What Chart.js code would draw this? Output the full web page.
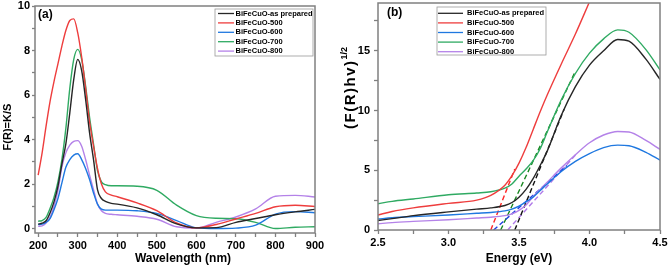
<!DOCTYPE html>
<html>
<head>
<meta charset="utf-8">
<script src="https://cdn.jsdelivr.net/npm/chart.js@4.4.1/dist/chart.umd.min.js"></script>
<style>
  body { margin: 0; background: #fff; }
  #wrap { position: relative; width: 669px; height: 271px; }
  #chartA { position: absolute; left: 0; top: 0; }
  #chartB { position: absolute; left: 335px; top: 0; }
</style>
</head>
<body>
<div id="wrap">
  <canvas id="chartA" width="335" height="271"></canvas>
  <canvas id="chartB" width="334" height="271"></canvas>
</div>
<script>
var seriesNames = ['BiFeCuO-as prepared', 'BiFeCuO-500', 'BiFeCuO-600', 'BiFeCuO-700', 'BiFeCuO-800'];
var seriesColors = ['#262626', '#ee3d3d', '#1f78e0', '#2faa62', '#b482e8'];
var tangentColors = ['#111111', '#ff2626', '#2040e0', '#16861e', '#b07ae8'];

// (a) Kubelka-Munk F(R) vs wavelength
var wavelength = [200, 210, 220, 230, 240, 250, 260, 270, 280, 290, 300, 310, 320, 330, 340, 350, 360, 370, 385, 400,
                  450, 500, 550, 600, 650, 700, 750, 800, 850, 900];
var frAsPrep = [0.20, 0.24, 0.35, 0.70, 1.20, 1.90, 2.90, 3.80, 5.20, 6.70, 7.60, 7.10, 5.80, 4.30, 3.10, 1.75, 1.35, 1.22, 1.13, 1.10,
                0.93, 0.62, 0.21, 0.03, 0.04, 0.28, 0.45, 0.62, 0.75, 0.86];
var fr500 = [2.40, 3.40, 4.60, 5.70, 6.60, 7.40, 8.20, 8.90, 9.35, 9.42, 8.80, 7.70, 6.30, 4.80, 3.70, 2.70, 2.00, 1.65, 1.50, 1.43,
             1.15, 0.80, 0.25, 0.03, 0.18, 0.43, 0.68, 0.98, 1.05, 0.99];
var fr600 = [0.18, 0.20, 0.28, 0.45, 0.85, 1.35, 2.05, 2.75, 3.10, 3.30, 3.36, 3.10, 2.70, 2.20, 1.60, 1.10, 0.87, 0.83, 0.83, 0.83,
             0.80, 0.68, 0.36, 0.03, 0.00, 0.02, 0.15, 0.65, 0.76, 0.71];
var fr700 = [0.33, 0.36, 0.50, 0.90, 1.40, 2.10, 3.10, 4.50, 6.30, 7.60, 8.05, 7.60, 6.40, 5.00, 3.80, 2.60, 2.10, 1.97, 1.92, 1.92,
             1.90, 1.72, 1.05, 0.58, 0.46, 0.44, 0.28, 0.00, 0.06, 0.08];
var fr800 = [0.10, 0.12, 0.25, 0.50, 1.00, 1.70, 2.76, 3.40, 3.75, 3.92, 3.95, 3.70, 3.10, 2.40, 1.75, 1.10, 0.80, 0.68, 0.64, 0.62,
             0.55, 0.42, 0.08, 0.02, 0.28, 0.52, 0.88, 1.45, 1.49, 1.42];
var xTicksA = [200, 250, 300, 350, 400, 450, 500, 550, 600, 650, 700, 750, 800, 850, 900];
var yTicksA = [0, 1, 2, 3, 4, 5, 6, 7, 8, 9, 10];

// (b) Tauc plot (F(R)hv)^1/2 vs energy
var energy = [2.5, 2.6, 2.75, 3.0, 3.2, 3.3, 3.4, 3.45, 3.5, 3.55, 3.6, 3.65, 3.7, 3.8, 3.9, 4.0, 4.1, 4.2, 4.28, 4.4, 4.5];
var taucAsPrep = [0.80, 0.95, 1.20, 1.52, 1.75, 1.85, 2.05, 2.30, 2.75, 3.40, 4.30, 5.40, 6.60, 9.60, 12.00, 13.80, 15.00, 15.95, 15.80, 14.30, 12.60];
var tauc500 = [1.26, 1.55, 1.85, 2.23, 2.50, 2.90, 3.75, 4.55, 5.60, 6.90, 8.40, 9.90, 11.30, 13.90, 16.40, 19.10];
var tauc600 = [0.92, 1.02, 1.12, 1.26, 1.40, 1.47, 1.60, 1.75, 2.00, 2.35, 2.75, 3.30, 3.85, 4.90, 5.75, 6.40, 6.90, 7.10, 7.05, 6.50, 5.85];
var tauc700 = [2.20, 2.40, 2.60, 2.95, 3.10, 3.20, 3.50, 3.85, 4.50, 5.10, 5.80, 6.80, 8.20, 10.90, 13.10, 14.80, 16.00, 16.75, 16.55, 15.10, 13.40];
var tauc800 = [0.52, 0.62, 0.72, 0.86, 1.00, 1.07, 1.20, 1.35, 1.65, 2.10, 2.80, 3.40, 4.00, 5.20, 6.30, 7.30, 7.95, 8.25, 8.20, 7.50, 6.75];
// linear fits: x-intercept and upper end point (as prepared, 500, 600, 700, 800)
var tangentStartX = [3.47, 3.30, 3.32, 3.37, 3.42];
var tangentEndX = [3.82, 3.47, 3.84, 3.90, 3.91];
var tangentEndY = [10.1, 5.1, 5.4, 13.3, 6.4];
var xTicksB = [2.5, 2.75, 3.0, 3.25, 3.5, 3.75, 4.0, 4.25, 4.5];
var yTicksB = [0, 2.5, 5, 7.5, 10, 12.5, 15, 17.5];

var FONT = 'Arial, "Liberation Sans", sans-serif';
Chart.defaults.font.family = FONT;
Chart.defaults.color = '#000';

function toPoints(xs, ys) {
  return ys.map(function (y, i) { return { x: xs[i], y: y }; });
}

function curve(label, color, xs, ys) {
  return {
    label: label, data: toPoints(xs, ys), borderColor: color, backgroundColor: color,
    borderWidth: 1.4, pointRadius: 0, cubicInterpolationMode: 'monotone', fill: false
  };
}

function drawRotated(ctx, x, y, main, sup, size, spacing) {
  ctx.save();
  ctx.translate(x, y);
  ctx.rotate(-Math.PI / 2);
  ctx.letterSpacing = spacing + 'px';
  ctx.font = 'bold ' + size + 'px ' + FONT;
  var w1 = ctx.measureText(main).width;
  ctx.letterSpacing = '0px';
  ctx.font = 'bold 9px ' + FONT;
  var w2 = sup ? ctx.measureText(sup).width : 0;
  var x0 = -(w1 + w2) / 2;
  ctx.textAlign = 'left';
  ctx.textBaseline = 'middle';
  ctx.fillStyle = '#000';
  ctx.letterSpacing = spacing + 'px';
  ctx.font = 'bold ' + size + 'px ' + FONT;
  ctx.fillText(main, x0, 0);
  if (sup) {
    ctx.letterSpacing = '0px';
    ctx.font = 'bold 9px ' + FONT;
    ctx.fillText(sup, x0 + w1, -size * 0.45);
  }
  ctx.restore();
}

var decorPlugin = {
  id: 'decor',
  afterDraw: function (chart, args, o) {
    var ctx = chart.ctx, a = chart.chartArea;
    ctx.save();
    // frame
    ctx.strokeStyle = '#808080';
    ctx.lineWidth = 1.5;
    ctx.strokeRect(a.left, a.top, a.right - a.left, a.bottom - a.top);
    // panel letter
    ctx.fillStyle = '#000';
    ctx.font = 'bold 12px ' + FONT;
    ctx.textAlign = 'left';
    ctx.textBaseline = 'middle';
    ctx.fillText(o.letter, o.letterX, o.letterY);
    // x title
    ctx.textAlign = 'center';
    ctx.fillText(o.xTitle, o.xTitleX, o.xTitleY);
    ctx.restore();
    // y title
    drawRotated(ctx, o.yTitleX, o.yTitleY, o.yTitle, o.ySup, o.yTitleSize, o.yTitleSpacing);
    // legend
    var L = o.legend;
    ctx.save();
    ctx.fillStyle = '#fff';
    ctx.fillRect(L.x, L.y, L.w, L.h);
    ctx.strokeStyle = '#9a9a9a';
    ctx.lineWidth = 0.8;
    ctx.strokeRect(L.x, L.y, L.w, L.h);
    ctx.font = 'bold 7.5px ' + FONT;
    ctx.textAlign = 'left';
    ctx.textBaseline = 'middle';
    ctx.fillStyle = '#000';
    for (var i = 0; i < seriesNames.length; i++) {
      var ry = L.y + L.first + i * L.row;
      ctx.strokeStyle = seriesColors[i];
      ctx.lineWidth = 1.3;
      ctx.beginPath();
      ctx.moveTo(L.x + L.lx0, ry);
      ctx.lineTo(L.x + L.lx1, ry);
      ctx.stroke();
      ctx.fillText(seriesNames[i], L.x + L.tx, ry);
    }
    ctx.restore();
  }
};

function axis(min, max, tickVals, labelFn, size, tickLen, pad) {
  return {
    type: 'linear', min: min, max: max,
    afterBuildTicks: function (s) { s.ticks = tickVals.map(function (v) { return { value: v }; }); },
    afterFit: function (s) {
      if (s.isHorizontal()) { s.height = size; s.paddingLeft = 0; s.paddingRight = 0; }
      else { s.width = size; s.paddingTop = 0; s.paddingBottom = 0; }
    },
    ticks: { callback: labelFn, autoSkip: false, maxRotation: 0, padding: pad, font: { size: 11, weight: 'bold' }, color: '#000' },
    grid: { drawOnChartArea: false, tickLength: tickLen, tickColor: '#808080', tickWidth: 1.3 },
    border: { display: false },
    title: { display: false }
  };
}

var dataA = [frAsPrep, fr500, fr600, fr700, fr800];
new Chart(document.getElementById('chartA'), {
  type: 'line',
  data: {
    datasets: dataA.map(function (ys, i) { return curve(seriesNames[i], seriesColors[i], wavelength, ys); })
  },
  options: {
    responsive: false, animation: false,
    layout: { padding: { left: 0, top: 6, right: 20, bottom: 0 } },
    plugins: {
      legend: { display: false }, tooltip: { enabled: false },
      decor: {
        letter: '(a)', letterX: 38, letterY: 15,
        xTitle: 'Wavelength (nm)', xTitleX: 183, xTitleY: 259,
        yTitle: 'F(R)=K/S', ySup: '', yTitleX: 8, yTitleY: 127, yTitleSize: 11, yTitleSpacing: 0,
        legend: { x: 215, y: 9, w: 98, h: 47, first: 4.5, row: 9.4, lx0: 3, lx1: 19, tx: 20.5 }
      }
    },
    scales: {
      x: axis(192, 900, xTicksA, function (v) { return v % 100 === 0 ? v : ''; }, 38, 4, 2),
      y: axis(-0.2, 10, yTicksA, function (v) { return v % 2 === 0 ? v : ''; }, 35, 3, 2)
    }
  },
  plugins: [decorPlugin]
});

var dataB = [taucAsPrep, tauc500, tauc600, tauc700, tauc800];
var datasetsB = dataB.map(function (ys, i) { return curve(seriesNames[i], seriesColors[i], energy, ys); });
tangentStartX.forEach(function (x0, i) {
  datasetsB.push({
    label: seriesNames[i] + ' fit',
    data: [{ x: x0, y: 0 }, { x: tangentEndX[i], y: tangentEndY[i] }],
    borderColor: tangentColors[i], borderWidth: 1.4, borderDash: [5, 3], pointRadius: 0, fill: false
  });
});

new Chart(document.getElementById('chartB'), {
  type: 'line',
  data: { datasets: datasetsB },
  options: {
    responsive: false, animation: false,
    layout: { padding: { left: 0, top: 3, right: 9, bottom: 0 } },
    plugins: {
      legend: { display: false }, tooltip: { enabled: false },
      decor: {
        letter: '(b)', letterX: 52, letterY: 13,
        xTitle: 'Energy (eV)', xTitleX: 184, xTitleY: 259,
        yTitle: '(F(R)hv)', ySup: '1/2', yTitleX: 16, yTitleY: 88, yTitleSize: 15, yTitleSpacing: 1.5,
        legend: { x: 102, y: 7, w: 109, h: 48, first: 6.3, row: 9.6, lx0: 1, lx1: 26, tx: 30 }
      }
    },
    scales: {
      x: axis(2.5, 4.5, xTicksB, function (v) { return Math.round(v * 4) % 2 === 0 ? v.toFixed(1) : ''; }, 41, 4, 2),
      y: axis(0, 19, yTicksB, function (v) { return v % 5 === 0 ? v : ''; }, 43, 4, 4)
    }
  },
  plugins: [decorPlugin]
});
</script>
</body>
</html>
